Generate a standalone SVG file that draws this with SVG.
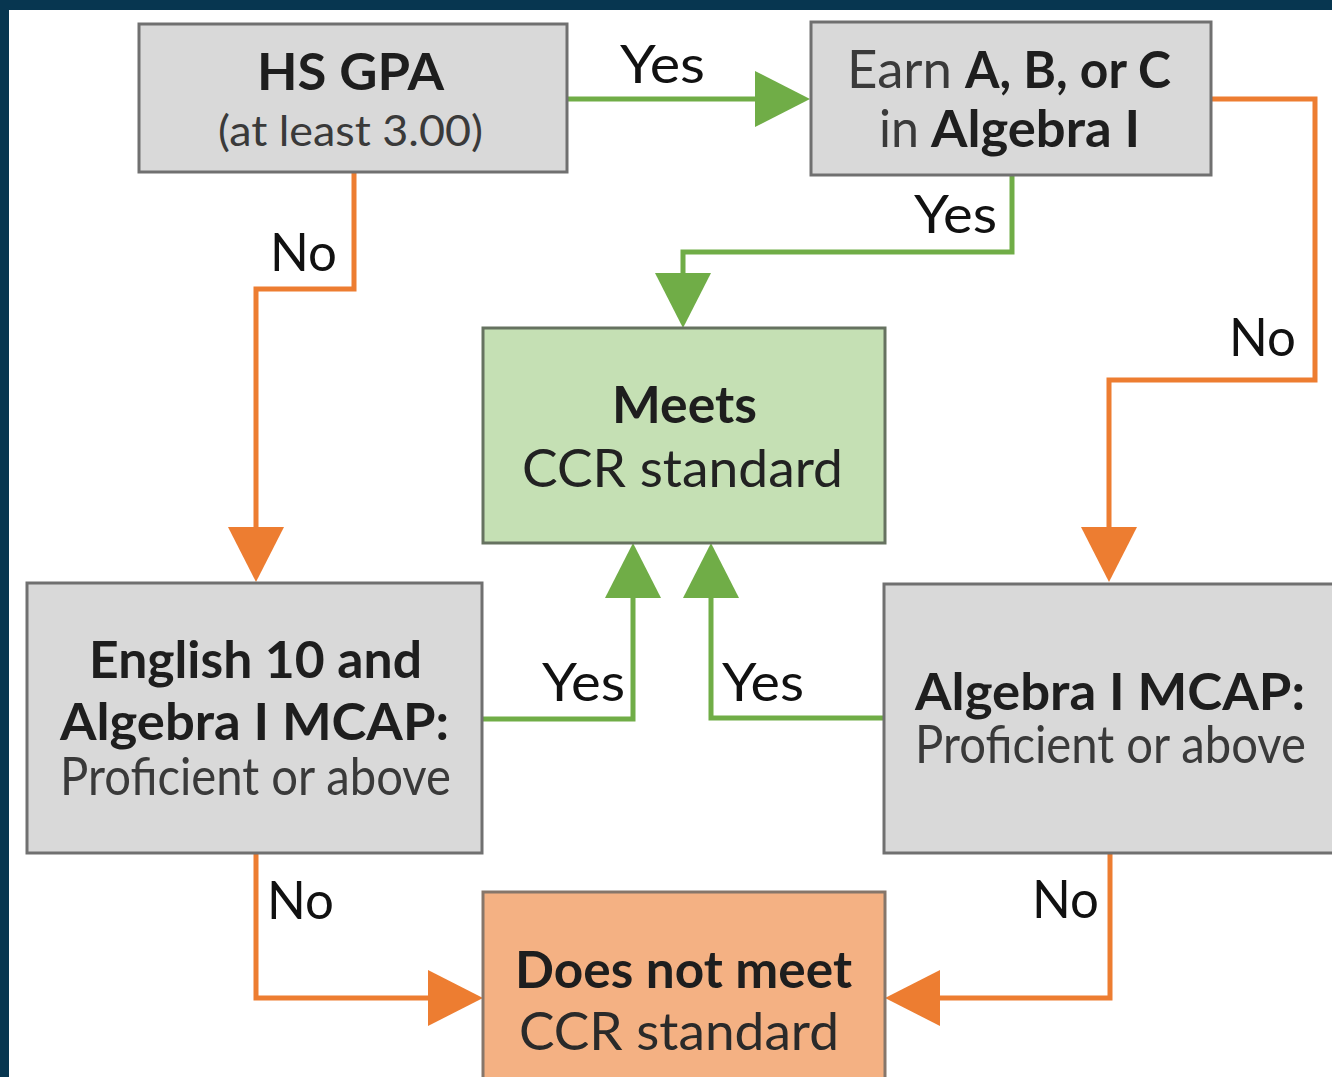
<svg xmlns="http://www.w3.org/2000/svg" width="1332" height="1077" viewBox="0 0 1332 1077">
<style>
text{font-family:Lato,"Open Sans","Liberation Sans",sans-serif;}
.b{font-weight:bold;fill:#1e1e1e;font-size:52px;}
.r{font-weight:normal;fill:#3a3a3a;font-size:52px;}
.lbl{font-weight:normal;fill:#111;font-size:52px;}
.gray{fill:#d9d9d9;stroke:#707070;stroke-width:3;}
.green{fill:#c5e0b4;stroke:#667260;stroke-width:3;}
.orange{fill:#f4b183;stroke:#86766a;stroke-width:3;}
.cg{fill:none;stroke:#70ad47;stroke-width:5;marker-end:url(#ag);}
.co{fill:none;stroke:#ed7d31;stroke-width:5;marker-end:url(#ao);}
</style>
<defs>
<marker id="ag" markerUnits="userSpaceOnUse" viewBox="0 0 55 56" markerWidth="55" markerHeight="56" refX="0" refY="28" orient="auto"><path d="M0,0 L55,28 L0,56 Z" fill="#70ad47"/></marker>
<marker id="ao" markerUnits="userSpaceOnUse" viewBox="0 0 55 56" markerWidth="55" markerHeight="56" refX="0" refY="28" orient="auto"><path d="M0,0 L55,28 L0,56 Z" fill="#ed7d31"/></marker>
</defs>
<rect x="0" y="0" width="1332" height="1077" fill="#073650"/>
<rect x="9" y="10" width="1323" height="1067" fill="#ffffff"/>

<g id="connectors">
<path class="cg" d="M567,99 H755"/>
<path class="cg" d="M1012,175 V252 H683 V273"/>
<path class="co" d="M1211,99 H1315 V380 H1109 V527"/>
<path class="co" d="M354,172 V289 H256 V527"/>
<path class="cg" d="M482,719 H633 V598"/>
<path class="cg" d="M884,718 H711 V598"/>
<path class="co" d="M256,853 V998 H428"/>
<path class="co" d="M1110,853 V998 H940"/>
<text class="lbl" x="620" y="83" textLength="85" lengthAdjust="spacingAndGlyphs">Yes</text>
<text class="lbl" x="914" y="233" textLength="83" lengthAdjust="spacingAndGlyphs">Yes</text>
<text class="lbl" x="1229" y="356" textLength="67" lengthAdjust="spacingAndGlyphs">No</text>
<text class="lbl" x="270" y="271" textLength="67" lengthAdjust="spacingAndGlyphs">No</text>
<text class="lbl" x="542" y="701" textLength="83" lengthAdjust="spacingAndGlyphs">Yes</text>
<text class="lbl" x="722" y="701" textLength="82" lengthAdjust="spacingAndGlyphs">Yes</text>
<text class="lbl" x="267" y="919" textLength="67" lengthAdjust="spacingAndGlyphs">No</text>
<text class="lbl" x="1032" y="918" textLength="67" lengthAdjust="spacingAndGlyphs">No</text>
</g>

<g id="hs-gpa">
<rect class="gray" x="139" y="24" width="428" height="148"/>
<text class="b" x="257" y="90" textLength="187" lengthAdjust="spacingAndGlyphs">HS GPA</text>
<text class="r" x="218" y="146" style="font-size:42px" textLength="265" lengthAdjust="spacingAndGlyphs">(at least 3.00)</text>
</g>

<g id="earn-abc">
<rect class="gray" x="811" y="22" width="400" height="153"/>
<text class="r" x="847" y="88" textLength="105" lengthAdjust="spacingAndGlyphs">Earn</text>
<text class="b" x="965" y="88" textLength="206" lengthAdjust="spacingAndGlyphs">A, B, or C</text>
<text class="r" x="879" y="147" textLength="40" lengthAdjust="spacingAndGlyphs">in</text>
<text class="b" x="931" y="147" textLength="209" lengthAdjust="spacingAndGlyphs">Algebra I</text>
</g>

<g id="meets">
<rect class="green" x="483" y="328" width="402" height="215"/>
<text class="b" x="612" y="423" textLength="145" lengthAdjust="spacingAndGlyphs">Meets</text>
<text class="r" x="522" y="487" style="fill:#222" textLength="321" lengthAdjust="spacingAndGlyphs">CCR standard</text>
</g>

<g id="english-algebra">
<rect class="gray" x="27" y="583" width="455" height="270"/>
<text class="b" x="89" y="678" textLength="333" lengthAdjust="spacingAndGlyphs">English 10 and</text>
<text class="b" x="60" y="740" textLength="389" lengthAdjust="spacingAndGlyphs">Algebra I MCAP:</text>
<text class="r" x="60" y="795" textLength="391" lengthAdjust="spacingAndGlyphs">Proficient or above</text>
</g>

<g id="algebra-mcap">
<rect class="gray" x="884" y="584" width="470" height="269"/>
<text class="b" x="915" y="710" textLength="390" lengthAdjust="spacingAndGlyphs">Algebra I MCAP:</text>
<text class="r" x="915" y="763" textLength="391" lengthAdjust="spacingAndGlyphs">Proficient or above</text>
</g>

<g id="does-not-meet">
<rect class="orange" x="483" y="892" width="402" height="200"/>
<text class="b" x="515" y="988" textLength="337" lengthAdjust="spacingAndGlyphs">Does not meet</text>
<text class="r" x="519" y="1050" style="fill:#2a2a2a" textLength="320" lengthAdjust="spacingAndGlyphs">CCR standard</text>
</g>
</svg>
